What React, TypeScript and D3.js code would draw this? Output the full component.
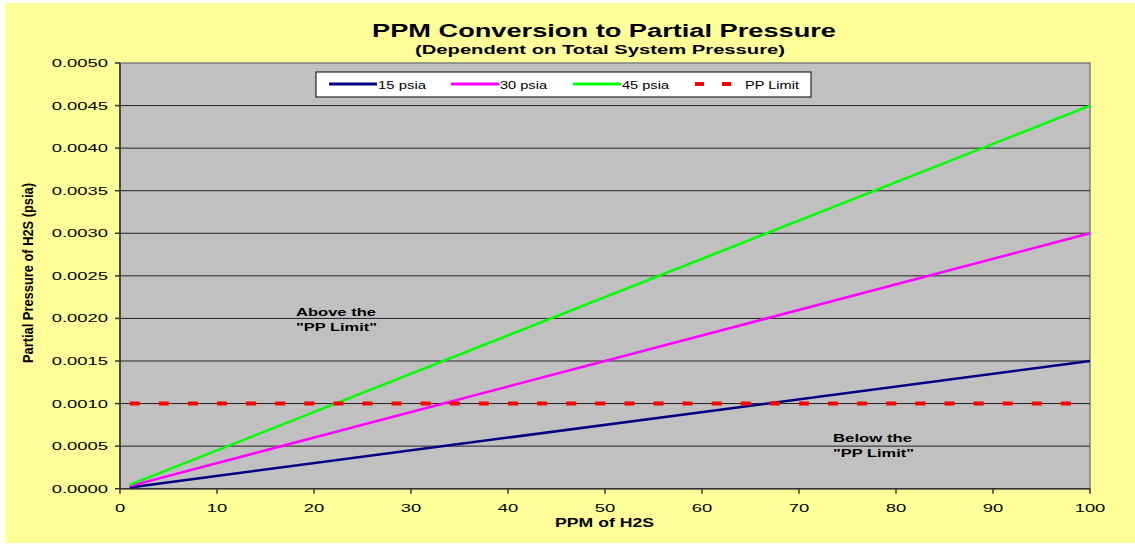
import * as d3 from "d3";
import { useEffect, useRef } from "react";

const ppm = [1, 100];
const psia15 = [0.000015, 0.0015];
const psia30 = [0.00003, 0.003];
const psia45 = [0.000045, 0.0045];
const ppLimit = [0.001, 0.001];

const xTicks = [0, 10, 20, 30, 40, 50, 60, 70, 80, 90, 100];
const yTicks = [0, 0.0005, 0.001, 0.0015, 0.002, 0.0025, 0.003, 0.0035, 0.004, 0.0045, 0.005];

const series = [
  { name: "15 psia", values: psia15, color: "#000080" },
  { name: "30 psia", values: psia30, color: "#FF00FF" },
  { name: "45 psia", values: psia45, color: "#00FF00" },
];

const W = 1135;
const H = 546;
const FONT = "Arial, 'Liberation Sans', sans-serif";

export default function App() {
  const svgRef = useRef<SVGSVGElement>(null);

  useEffect(() => {
    if (!svgRef.current) return;
    const svg = d3.select(svgRef.current);
    svg.selectAll("*").remove();

    const left = 120, right = 1090, top = 63, bottom = 488.7;
    const x = d3.scaleLinear().domain([0, 100]).range([left, right]);
    const y = d3.scaleLinear().domain([0, 0.005]).range([bottom, top]);

    // chart background
    svg.append("rect").attr("x", 5).attr("y", 3).attr("width", W - 5).attr("height", 540).attr("fill", "#FFFF99");

    // plot area
    svg.append("rect")
      .attr("x", left).attr("y", top)
      .attr("width", right - left).attr("height", bottom - top)
      .attr("fill", "#C0C0C0")
      .attr("stroke", "#808080").attr("stroke-width", 1.5);

    // gridlines
    svg.append("g").selectAll("line")
      .data(yTicks.filter((t) => t > 0 && t < 0.005))
      .enter().append("line")
      .attr("x1", left).attr("x2", right)
      .attr("y1", (d) => y(d)).attr("y2", (d) => y(d))
      .attr("stroke", "#222").attr("stroke-width", 1);

    // axes lines
    svg.append("line").attr("x1", left).attr("x2", left).attr("y1", top).attr("y2", bottom)
      .attr("stroke", "#333").attr("stroke-width", 1.5);
    svg.append("line").attr("x1", left).attr("x2", right).attr("y1", bottom).attr("y2", bottom)
      .attr("stroke", "#333").attr("stroke-width", 1.5);

    // y ticks & labels
    const yg = svg.append("g");
    yTicks.forEach((t) => {
      yg.append("line").attr("x1", left - 5).attr("x2", left).attr("y1", y(t)).attr("y2", y(t))
        .attr("stroke", "#333").attr("stroke-width", 1.5);
      yg.append("text")
        .attr("transform", `translate(108,${y(t) + 4}) scale(1.6,1)`)
        .attr("text-anchor", "end")
        .attr("font-family", FONT).attr("font-size", 11.5).attr("fill", "#000")
        .text(d3.format(".4f")(t));
    });

    // x ticks & labels
    const xg = svg.append("g");
    xTicks.forEach((t) => {
      xg.append("line").attr("x1", x(t)).attr("x2", x(t)).attr("y1", bottom).attr("y2", bottom + 5)
        .attr("stroke", "#333").attr("stroke-width", 1.5);
      xg.append("text")
        .attr("transform", `translate(${x(t)},512) scale(1.6,1)`)
        .attr("text-anchor", "middle")
        .attr("font-family", FONT).attr("font-size", 11.5).attr("fill", "#000")
        .text(String(t));
    });

    const line = d3.line<number>()
      .x((_, i) => x(ppm[i]))
      .y((d) => y(d));

    series.forEach((s) => {
      svg.append("path")
        .datum(s.values)
        .attr("fill", "none")
        .attr("stroke", s.color)
        .attr("stroke-width", 2.5)
        .attr("d", line);
    });

    svg.append("path")
      .datum(ppLimit)
      .attr("fill", "none")
      .attr("stroke", "#FF0000")
      .attr("stroke-width", 4)
      .attr("stroke-dasharray", "10,19.1")
      .attr("d", line);

    // titles
    const txt = (t: string, cx: number, cy: number, size: number, len: number, anchor = "middle") =>
      svg.append("text")
        .attr("x", cx).attr("y", cy)
        .attr("text-anchor", anchor)
        .attr("font-family", FONT).attr("font-weight", "bold")
        .attr("font-size", size).attr("fill", "#000")
        .attr("textLength", len).attr("lengthAdjust", "spacingAndGlyphs")
        .text(t);

    txt("PPM Conversion to Partial Pressure", 604, 37, 18, 464);
    txt("(Dependent on Total System Pressure)", 600, 54, 12.5, 370);
    txt("PPM of H2S", 604.5, 527, 12, 99);

    svg.append("text")
      .attr("transform", "translate(33,273) scale(1.5,1) rotate(-90)")
      .attr("text-anchor", "middle")
      .attr("font-family", FONT).attr("font-weight", "bold")
      .attr("font-size", 9.5).attr("fill", "#000")
      .attr("textLength", 180).attr("lengthAdjust", "spacingAndGlyphs")
      .text("Partial Pressure of H2S (psia)");

    // annotations
    txt("Above the", 296, 316, 11, 80, "start");
    txt("\"PP Limit\"", 296, 331, 11, 81, "start");
    txt("Below the", 833, 442, 11, 79, "start");
    txt("\"PP Limit\"", 833, 457, 11, 81, "start");

    // legend
    const lg = svg.append("g");
    lg.append("rect").attr("x", 316).attr("y", 72).attr("width", 495).attr("height", 25)
      .attr("fill", "#fff").attr("stroke", "#000").attr("stroke-width", 1);
    const items = [
      { name: "15 psia", color: "#000080", lx: 329, tx: 378, len: 48, dashed: false },
      { name: "30 psia", color: "#FF00FF", lx: 451, tx: 500, len: 47, dashed: false },
      { name: "45 psia", color: "#00FF00", lx: 573, tx: 622, len: 47, dashed: false },
      { name: "PP Limit", color: "#FF0000", lx: 695, tx: 745, len: 54, dashed: true },
    ];
    items.forEach((it) => {
      if (it.dashed) {
        [695, 722].forEach((dx) => {
          lg.append("rect").attr("x", dx).attr("y", 82).attr("width", 9).attr("height", 4).attr("fill", it.color);
        });
      } else {
        lg.append("line").attr("x1", it.lx).attr("x2", it.lx + 48).attr("y1", 84).attr("y2", 84)
          .attr("stroke", it.color).attr("stroke-width", 3);
      }
      lg.append("text")
        .attr("x", it.tx).attr("y", 88.5)
        .attr("font-family", FONT).attr("font-size", 11).attr("fill", "#000")
        .attr("textLength", it.len).attr("lengthAdjust", "spacingAndGlyphs")
        .text(it.name);
    });
  }, []);

  return (
    <svg
      ref={svgRef}
      width={W}
      height={H}
      style={{ position: "absolute", left: 0, top: 0, background: "#fff" }}
    />
  );
}
